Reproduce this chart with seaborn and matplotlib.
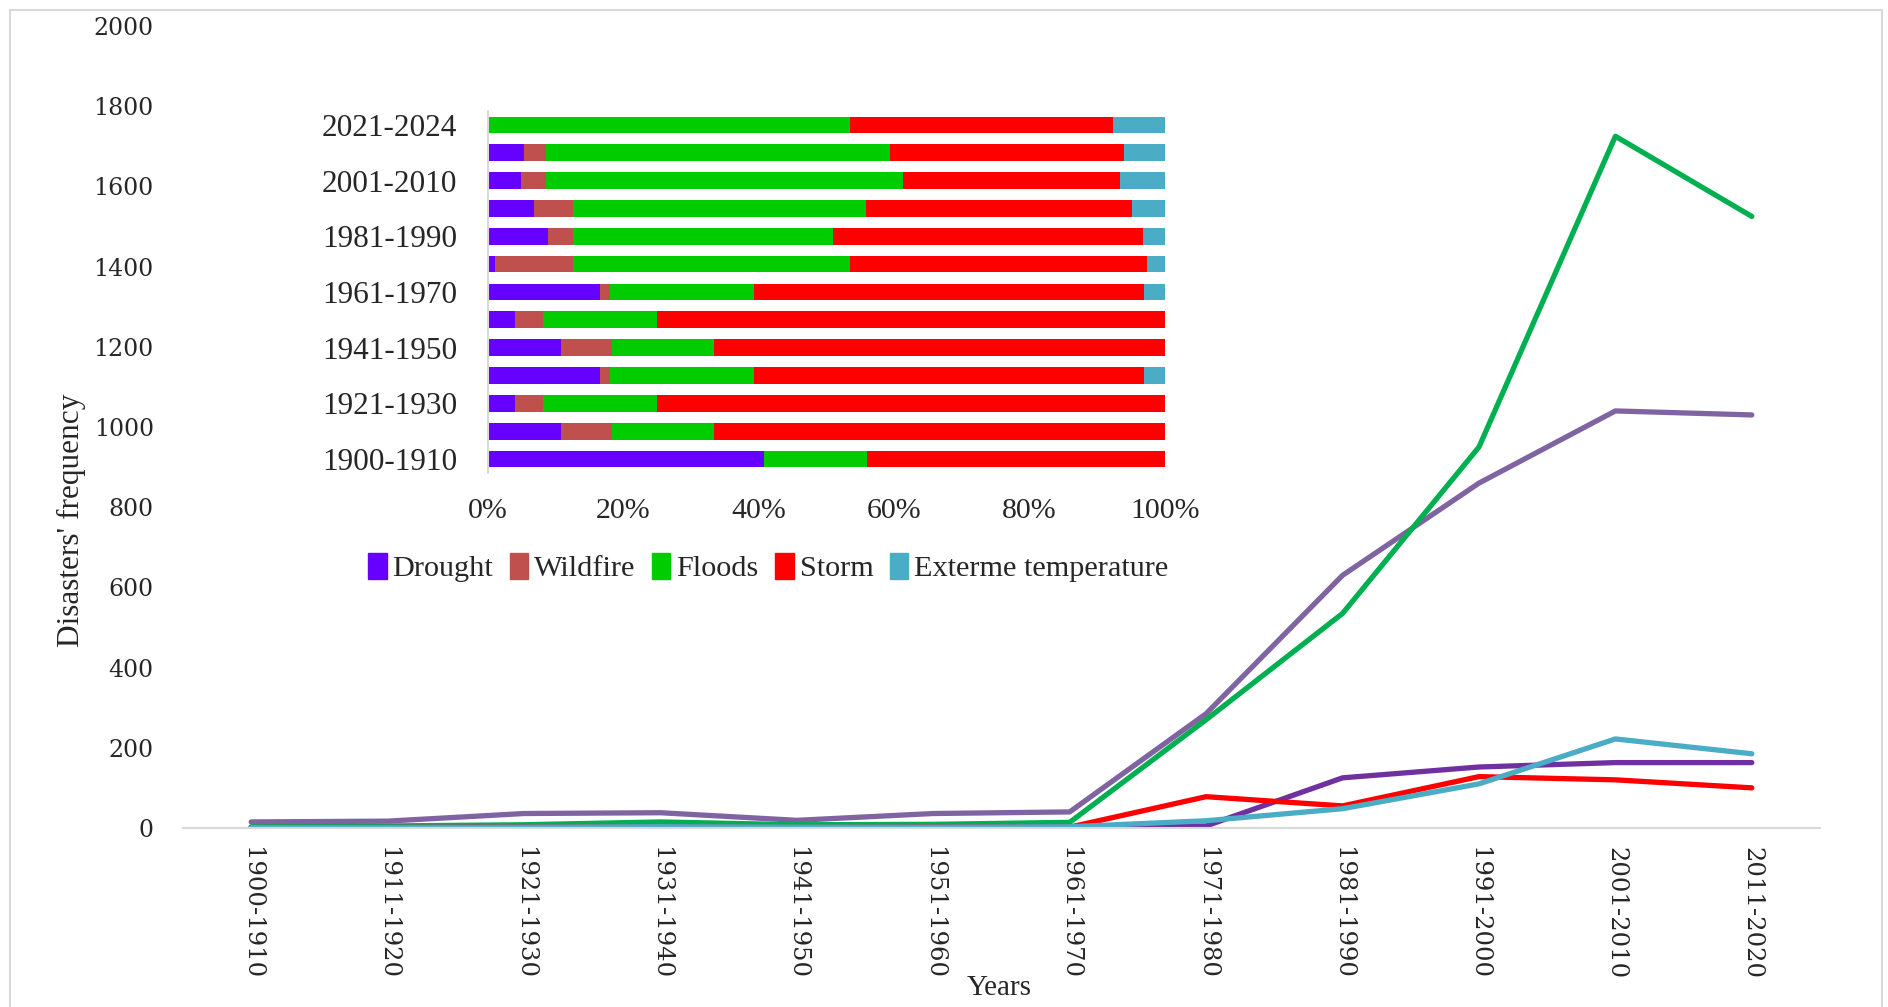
"""Disaster frequency by decade, with an inset of the share of each disaster type"""
import matplotlib.pyplot as plt
from matplotlib.patches import Patch
from matplotlib.lines import Line2D
import numpy as np
import pandas as pd
import seaborn as sns

sns.set_style("white")
plt.rcParams['font.family'] = ['DejaVu Serif', 'DejaVu Sans']

# Line chart data (decades on the x axis)
decades = ['1900-1910', '1911-1920', '1921-1930', '1931-1940', '1941-1950', '1951-1960',
           '1961-1970', '1971-1980', '1981-1990', '1991-2000', '2001-2010', '2011-2020']
total_line = [15, 17, 36, 38, 19, 36, 40, 285, 630, 860, 1040, 1030]
floods_line = [3, 5, 8, 15, 8, 9, 14, 270, 535, 950, 1725, 1525]
drought_line = [1, 1, 2, 2, 1, 2, 3, 5, 125, 152, 163, 163]
storm_line = [1, 1, 2, 2, 1, 2, 2, 78, 55, 128, 120, 100]
temp_line = [1, 1, 2, 3, 2, 2, 3, 18, 48, 110, 222, 185]

# Inset: percentage share per period
periods = ['1900-1910', '1911-1920', '1921-1930', '1931-1940', '1941-1950', '1951-1960',
           '1961-1970', '1971-1980', '1981-1990', '1991-2000', '2001-2010', '2011-2020',
           '2021-2024']
period_labels = ['1900-1910', '', '1921-1930', '', '1941-1950', '', '1961-1970', '',
                 '1981-1990', '', '2001-2010', '', '2021-2024']
drought_pct = [40.8, 10.8, 4.0, 16.5, 10.8, 4.0, 16.5, 1.0, 8.8, 6.8, 4.8, 5.3, 0.0]
wildfire_pct = [0.0, 7.5, 4.1, 1.5, 7.5, 4.1, 1.5, 11.6, 3.7, 5.7, 3.7, 3.2, 0.0]
floods_pct = [15.1, 15.0, 16.8, 21.3, 15.0, 16.8, 21.3, 40.8, 38.5, 43.3, 52.8, 50.8, 53.4]
storm_pct = [44.1, 66.7, 75.1, 57.6, 66.7, 75.1, 57.6, 43.9, 45.7, 39.3, 32.0, 34.6, 38.9]
temp_pct = [0.0, 0.0, 0.0, 3.1, 0.0, 0.0, 3.1, 2.7, 3.3, 4.9, 6.7, 6.1, 7.7]

types = ['Drought', 'Wildfire', 'Floods', 'Storm', 'Exterme temperature']
type_colors = ['#6600FF', '#C0504D', '#00CC00', '#FF0000', '#4BACC6']

fig = plt.figure(figsize=(18.88, 10.07), dpi=100)

# light frame around the figure
for xs, ys in [([0.0053, 0.0053], [0, 0.99]), ([0.0053, 0.997], [0.99, 0.99]),
               ([0.997, 0.997], [0, 0.99])]:
    fig.add_artist(Line2D(xs, ys, color='#d9d9d9', lw=1.5, transform=fig.transFigure))

# ---- main line chart
ax = fig.add_axes([0.0969, 0.1778, 0.8671, 0.7964])
x = np.arange(len(decades))
line_series = [(total_line, '#8064A2'), (floods_line, '#00B050'), (drought_line, '#7030A0'),
               (storm_line, '#FF0000'), (temp_line, '#4BACC6')]
for vals, col in line_series:
    sns.lineplot(x=x, y=vals, color=col, lw=3.8, ax=ax)

ax.set_xlim(-0.5, len(decades) - 0.5)
ax.set_ylim(0, 2000)
ax.set_yticks(range(0, 2001, 200))
ax.set_xticks(x)
ax.set_xticklabels(decades, rotation=-90, fontsize=17.5)
ax.tick_params(axis='y', labelsize=17, length=0, pad=21)
ax.tick_params(axis='x', length=0, pad=14)
for s in ['top', 'right', 'left']:
    ax.spines[s].set_visible(False)
ax.spines['bottom'].set_color('#d9d9d9')
ax.spines['bottom'].set_linewidth(1.5)
ax.set_xlabel('Years', family='Liberation Serif', fontsize=21)
ax.set_ylabel("Disasters' frequency", family='Liberation Serif', fontsize=22.5)
ax.xaxis.set_label_coords(0.4985, -0.183)
ax.yaxis.set_label_coords(-0.059, 0.384)

# ---- inset stacked percentage bars
ins = fig.add_axes([0.2585, 0.5303, 0.3586, 0.3595])
pct = pd.DataFrame({'Drought': drought_pct, 'Wildfire': wildfire_pct, 'Floods': floods_pct,
                    'Storm': storm_pct, 'Exterme temperature': temp_pct}, index=periods)
cum = pct.cumsum(axis=1)
order = periods[::-1]
# draw cumulative layers from the widest down so each segment shows
for name, col in reversed(list(zip(types, type_colors))):
    sns.barplot(x=cum[name].values, y=periods, order=order, orient='h', color=col,
                saturation=1, width=0.6, linewidth=0, ax=ins)

ins.set_xlim(0, 100)
ins.set_xticks(range(0, 101, 20))
ins.set_xticklabels([f'{v}%' for v in range(0, 101, 20)], family='Liberation Serif', fontsize=21.5)
ins.set_yticks(range(len(order)))
ins.set_yticklabels(period_labels[::-1], family='Liberation Serif', fontsize=22.5)
ins.tick_params(axis='y', length=0, pad=22)
ins.tick_params(axis='x', length=0, pad=18)
ins.set_xlabel('')
ins.set_ylabel('')
ins.patch.set_alpha(0)
for s in ['top', 'right', 'bottom']:
    ins.spines[s].set_visible(False)
ins.spines['left'].set_color('#d9d9d9')
ins.spines['left'].set_linewidth(1.5)

handles = [Patch(color=c, label=t) for t, c in zip(types, type_colors)]
fig.legend(handles=handles, loc='center', bbox_to_anchor=(0.407, 0.436), ncol=5, frameon=False,
           prop={'family': 'Liberation Serif', 'size': 21.8}, handlelength=0.6, handleheight=0.9,
           handletextpad=0.2, columnspacing=0.55)

fig.savefig('out.png', dpi=100)
